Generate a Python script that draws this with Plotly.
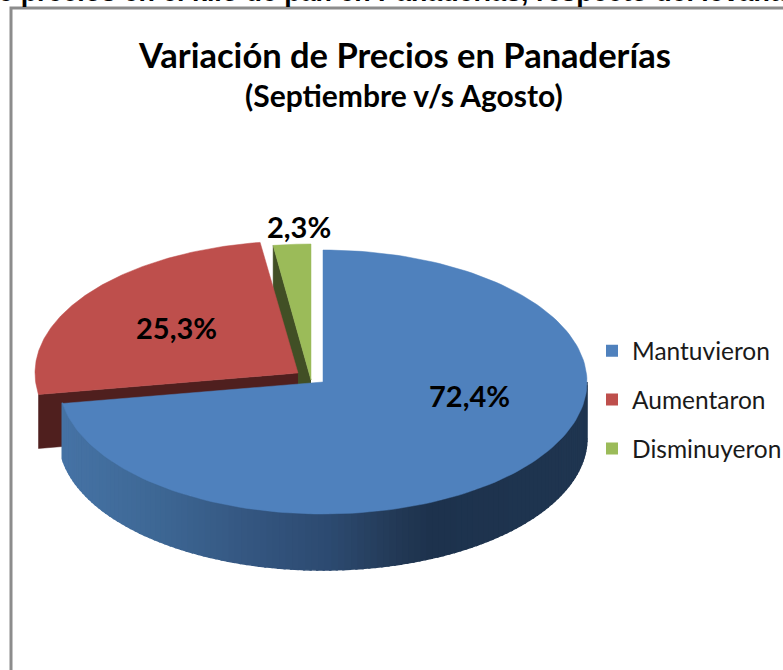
import numpy as np
import plotly.graph_objects as go

categories = ["Mantuvieron", "Aumentaron", "Disminuyeron"]
values = [72.4, 25.3, 2.3]
title_text = "Variación de Precios en Panaderías"
subtitle_text = "(Septiembre v/s Agosto)"
header_text = "de precios en el kilo de pan en Panaderías, respecto del levantamiento"

COL = ["#4F81BD", "#BE4F4C", "#9BBB59"]
SIDE = [None, "#4F1F1E", "#414F25"]
GRAD_X = [62, 150, 250, 330, 400, 430, 588]
GRAD_C = [(70, 115, 165), (62, 104, 150), (52, 86, 128), (44, 74, 112), (34, 56, 84), (29, 50, 77), (31, 53, 80)]
FONT = "Lato"
DEPTH = 56
# apex x, apex y, radius x, radius y for each slice (the two small slices are pulled out)
GEOM = [(323, 382, 264, 132), (298, 373, 263, 132), (311, 380, 263, 136)]

total = sum(values)
edges = np.concatenate([[0], np.cumsum(values) / total * 2 * np.pi])


def pt(g, t):
    return g[0] + g[2] * np.sin(t), g[1] - g[3] * np.cos(t)


def add_poly(fig, xs, ys, col, lw=0.5):
    fig.add_trace(go.Scatter(x=list(xs), y=list(ys), mode="lines", fill="toself", fillcolor=col,
                             line=dict(color=col, width=lw), hoverinfo="skip", showlegend=False))


def radial_side(fig, g, t, col, depth):
    x, y = pt(g, t)
    add_poly(fig, [g[0], x, x, g[0]], [g[1], y, y + depth, g[1] + depth], col)


def wedge(g, a, b):
    ts = np.linspace(a, b, 160)
    x, y = pt(g, ts)
    return np.r_[g[0], x, g[0]], np.r_[g[1], y, g[1]]


fig = go.Figure()

# green slice
radial_side(fig, GEOM[2], edges[2], SIDE[2], DEPTH)
add_poly(fig, *wedge(GEOM[2], edges[2], edges[3]), COL[2])

# red slice
radial_side(fig, GEOM[1], edges[1], SIDE[1], DEPTH - 2)
add_poly(fig, *wedge(GEOM[1], edges[1], edges[2]), COL[1])

# blue slice: rim with shading
g = GEOM[0]
grid = np.linspace(0.5 * np.pi, edges[1], 121)
for a, b in zip(grid[:-1], grid[1:]):
    ts = np.linspace(a, b + 0.006, 4)
    x, y = pt(g, ts)
    xm = x.mean()
    c = [int(round(np.interp(xm, GRAD_X, [k[i] for k in GRAD_C]))) for i in range(3)]
    col = f"rgb({c[0]},{c[1]},{c[2]})"
    add_poly(fig, np.r_[x, x[::-1]], np.r_[y, y[::-1] + DEPTH], col, lw=1.5)
add_poly(fig, *wedge(g, edges[0], edges[1]), COL[0])

# legend entries
for name, col in zip(categories, COL):
    fig.add_trace(go.Scatter(x=[None], y=[None], mode="markers", name=name, legendgroup=name,
                             marker=dict(symbol="square", size=13, color=col)))

# percentage labels
label_pos = [(469, 395), (176, 327), (299, 226)]
for v, (lx, ly) in zip(values, label_pos):
    fig.add_annotation(x=lx, y=ly, text=f"<b>{v:.1f}%</b>".replace(".", ","), showarrow=False,
                       font=dict(family=FONT, size=29, color="#000000"))

fig.add_annotation(x=404, y=54, text=f"<b>{title_text}</b>", showarrow=False,
                   font=dict(family=FONT, size=34.5, color="#000000"))
fig.add_annotation(x=404, y=95, text=f"<b>{subtitle_text}</b>", showarrow=False,
                   font=dict(family=FONT, size=30, color="#000000"))
fig.add_annotation(xref="paper", yref="paper", x=-20 / 783, y=1 - 9.5 / 670, xanchor="left", yanchor="bottom",
                   text=f"<b>{header_text}</b>", showarrow=False,
                   font=dict(family="Liberation Sans", size=26.8, color="#000000"))

fig.add_shape(type="rect", x0=11, y0=8, x1=820, y1=720, line=dict(color="#8C8C8C", width=3), layer="below")

fig.update_layout(
    width=783, height=670, margin=dict(l=0, r=0, t=0, b=0, autoexpand=False),
    paper_bgcolor="white", plot_bgcolor="white",
    xaxis=dict(range=[0, 783], visible=False, fixedrange=True),
    yaxis=dict(range=[670, 0], visible=False, fixedrange=True),
    legend=dict(x=592 / 783, y=0.51, xanchor="left", yanchor="top", tracegroupgap=14,
                font=dict(family=FONT, size=24.5, color="#1A1A1A"), itemsizing="constant",
                bgcolor="rgba(0,0,0,0)"),
)
fig.write_html("out.html", config={"displayModeBar": False},
               post_script="document.body.style.margin='0';document.documentElement.style.overflow='hidden';")
